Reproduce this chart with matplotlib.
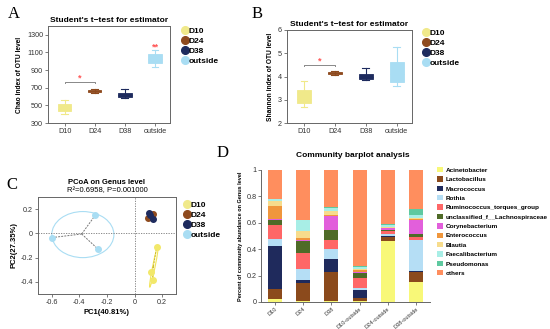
import numpy as np
import matplotlib
matplotlib.use('Agg')
import matplotlib.pyplot as plt
from matplotlib.lines import Line2D
from matplotlib.patches import Ellipse, Patch

plt.rcParams['font.family'] = ['Liberation Sans', 'DejaVu Sans']

W, H = 550, 329

# ---- data ----
groups = ['D10', 'D24', 'D38', 'outside']
grp_colors = ['#F0E98A', '#8E4A1E', '#1E2B5E', '#A9DDF3']

chao_lo = [400, 640, 580, 940]
chao_q1 = [440, 652, 598, 975]
chao_med = [462, 662, 615, 1030]
chao_q3 = [510, 675, 640, 1080]
chao_hi = [560, 690, 680, 1130]

shan_lo = [2.70, 4.05, 3.85, 3.60]
shan_q1 = [2.85, 4.10, 3.88, 3.78]
shan_med = [3.05, 4.14, 3.98, 4.10]
shan_q3 = [3.40, 4.18, 4.12, 4.62]
shan_hi = [3.82, 4.22, 4.35, 5.25]

pc_x = {'D10': [0.16, 0.12, 0.13],
        'D24': [0.095, 0.125, 0.135],
        'D38': [0.105, 0.11, 0.13],
        'outside': [-0.60, -0.285, -0.265]}
pc_y = {'D10': [-0.11, -0.32, -0.385],
        'D24': [0.13, 0.145, 0.16],
        'D38': [0.17, 0.15, 0.12],
        'outside': [-0.035, 0.15, -0.13]}

samples = ['D10', 'D24', 'D38', 'D10-outside', 'D24-outside', 'D38-outside']
genera = ['Acinetobacter', 'Lactobacillus', 'Macrococcus', 'Rothia',
          'Ruminococcus_torques_group', 'unclassified_f__Lachnospiraceae',
          'Corynebacterium', 'Enterococcus', 'Blautia', 'Faecalibacterium',
          'Pseudomonas', 'others']
genus_colors = ['#F8F878', '#8B4A1C', '#1F2A5C', '#B5DEF5', '#FF6767', '#4F6B28',
                '#E25FDB', '#F0963C', '#F7DC8C', '#A8EEE6', '#5EC9A0', '#FF8E5E']
abund = {
    'Acinetobacter':                   [0.020, 0.008, 0.005, 0.008, 0.462, 0.154],
    'Lactobacillus':                   [0.076, 0.138, 0.220, 0.025, 0.033, 0.070],
    'Macrococcus':                     [0.330, 0.020, 0.100, 0.055, 0.005, 0.008],
    'Rothia':                          [0.048, 0.083, 0.074, 0.016, 0.015, 0.240],
    'Ruminococcus_torques_group':      [0.111, 0.126, 0.072, 0.080, 0.020, 0.022],
    'unclassified_f__Lachnospiraceae': [0.038, 0.086, 0.078, 0.033, 0.013, 0.020],
    'Corynebacterium':                 [0.008, 0.010, 0.104, 0.013, 0.012, 0.108],
    'Enterococcus':                    [0.096, 0.015, 0.008, 0.010, 0.004, 0.005],
    'Blautia':                         [0.040, 0.053, 0.025, 0.013, 0.006, 0.007],
    'Faecalibacterium':                [0.010, 0.084, 0.028, 0.015, 0.012, 0.025],
    'Pseudomonas':                     [0.002, 0.002, 0.002, 0.005, 0.008, 0.047],
}
abund['others'] = list(1 - np.sum([abund[g] for g in genera[:-1]], axis=0))


def rect(l, t, r, b):
    return [l / W, 1 - b / H, (r - l) / W, (b - t) / H]


fig = plt.figure(figsize=(W / 100, H / 100), dpi=100)
spine_c = '#666666'
tick_fs = 5.2


def boxpanel(ax, lo, q1, med, q3, hi, ylab, yl, yt):
    stats = []
    for i in range(len(groups)):
        stats.append(dict(whislo=lo[i], q1=q1[i], med=med[i], q3=q3[i], whishi=hi[i], fliers=[]))
    bp = ax.bxp(stats, positions=range(1, 5), widths=0.45, patch_artist=True,
                showfliers=False)
    for i, c in enumerate(grp_colors):
        bp['boxes'][i].set(facecolor=c, edgecolor=c, linewidth=0.6)
        bp['medians'][i].set(color=c, linewidth=0.6)
        for k in (2 * i, 2 * i + 1):
            bp['whiskers'][k].set(color=c, linewidth=0.8)
            bp['caps'][k].set(color=c, linewidth=0.8)
    ax.set_xlim(0.45, 4.5)
    ax.set_ylim(*yl)
    ax.set_yticks(yt)
    ax.set_xticks(range(1, 5))
    ax.set_xticklabels(groups)
    ax.tick_params(labelsize=tick_fs, length=2, width=0.6, color=spine_c, pad=1.5,
                   labelcolor='#333333')
    for s in ax.spines.values():
        s.set_color(spine_c)
        s.set_linewidth(0.7)
    ax.set_ylabel(ylab, fontsize=4.8, fontweight='bold', labelpad=3)
    ax.set_title("Student's t\u2212test for estimator", fontsize=6, fontweight='bold', pad=3)


def sigbar(ax, x1, x2, y, tip, ystar, txt):
    ax.plot([x1, x1, x2, x2], [y - tip, y, y, y - tip], color='#888888', lw=0.7)
    ax.text((x1 + x2) / 2, ystar, txt, color='#FF5555',
            ha='center', va='center', fontsize=6.5, fontweight='bold')


def grp_legend(x, y, fs=6):
    hs = [Line2D([], [], marker='o', ls='', markersize=5.5, color=c) for c in grp_colors]
    fig.legend(hs, groups, loc='upper left', bbox_to_anchor=(x / W, 1 - y / H),
               frameon=False, prop={'weight': 'bold', 'size': fs},
               handlelength=0.6, handletextpad=0.2, labelspacing=0.25, borderpad=0,
               borderaxespad=0)


# ---- A ----
axA = fig.add_axes(rect(48, 26, 170, 123))
boxpanel(axA, chao_lo, chao_q1, chao_med, chao_q3, chao_hi,
         'Chao index of OTU level', (300, 1400), [300, 500, 700, 900, 1100, 1300])
sigbar(axA, 1, 2, 760, 10, 805, '*')
axA.text(4, 1160, '**', color='#FF5555', ha='center', va='center', fontsize=6.5,
         fontweight='bold')
grp_legend(182, 27)
fig.text(8 / W, 1 - 14 / H, 'A', fontsize=12, family='Liberation Serif', va='center')

# ---- B ----
axB = fig.add_axes(rect(287, 30, 412, 123))
boxpanel(axB, shan_lo, shan_q1, shan_med, shan_q3, shan_hi,
         'Shannon index of OTU level', (2, 6), [2, 3, 4, 5, 6])
sigbar(axB, 1, 2, 4.5, 0.04, 4.68, '*')
grp_legend(423, 29)
fig.text(252 / W, 1 - 14 / H, 'B', fontsize=12, family='Liberation Serif', va='center')

# ---- C ----
axC = fig.add_axes(rect(38, 197, 176, 294))
axC.axhline(0, color='#777777', ls=(0, (1.5, 1.5)), lw=0.6)
axC.axvline(0, color='#777777', ls=(0, (1.5, 1.5)), lw=0.6)
axC.add_patch(Ellipse((-0.375, -0.01), 0.45, 0.38, fill=False, ec=grp_colors[3], lw=0.8))
axC.add_patch(Ellipse((0.14, -0.272), 0.35, 0.018, angle=80, fill=False, ec='#F2E45A', lw=0.8))
for g, c in zip(groups, grp_colors):
    xs, ys = np.array(pc_x[g]), np.array(pc_y[g])
    cx, cy = xs.mean(), ys.mean()
    lc = '#777777' if g != 'D10' else '#C8B82A'
    for px, py in zip(xs, ys):
        axC.plot([cx, px], [cy, py], color=lc, ls=(0, (2, 1.2)), lw=0.7)
    col = '#F2E86A' if g == 'D10' else c
    axC.plot(xs, ys, 'o', color=col, markersize=4, zorder=3)
axC.set_xlim(-0.7, 0.3)
axC.set_ylim(-0.5, 0.3)
axC.set_xticks([-0.6, -0.4, -0.2, 0, 0.2])
axC.set_xticklabels(['-0.6', '-0.4', '-0.2', '0', '0.2'])
axC.set_yticks([-0.4, -0.2, 0, 0.2])
axC.set_yticklabels(['-0.4', '-0.2', '0', '0.2'])
axC.tick_params(labelsize=tick_fs, length=2, width=0.6, color=spine_c, pad=1.5,
                labelcolor='#333333')
for s in axC.spines.values():
    s.set_color(spine_c)
    s.set_linewidth(0.7)
axC.set_xlabel('PC1(40.81%)', fontsize=5.5, fontweight='bold', labelpad=2)
axC.set_ylabel('PC2(27.35%)', fontsize=5.5, fontweight='bold', labelpad=2)
fig.text(107 / W, 1 - 182 / H, 'PCoA on Genus level', fontsize=5.5, fontweight='bold',
         ha='center', va='center')
fig.text(107 / W, 1 - 190.5 / H, 'R\u00b2=0.6958, P=0.001000', fontsize=5.5,
         ha='center', va='center')
grp_legend(184, 201)
fig.text(6 / W, 1 - 185 / H, 'C', fontsize=12, family='Liberation Serif', va='center')

# ---- D ----
axD = fig.add_axes(rect(261, 170, 430, 302))
xpos = np.arange(len(samples))
bottom = np.zeros(len(samples))
for g, c in zip(genera, genus_colors):
    v = np.array(abund[g])
    axD.bar(xpos, v, 0.5, bottom=bottom, color=c, lw=0)
    bottom += v
axD.set_xlim(-0.5, 5.5)
axD.set_ylim(0, 1)
axD.set_yticks([0, 0.2, 0.4, 0.6, 0.8, 1])
axD.set_yticklabels(['0', '0.2', '0.4', '0.6', '0.8', '1'])
axD.set_xticks(xpos)
axD.set_xticklabels(samples, rotation=40, ha='right', rotation_mode='anchor',
                    fontsize=4.1)
axD.tick_params(axis='y', labelsize=tick_fs)
axD.tick_params(length=2, width=0.6, color=spine_c, pad=1, labelcolor='#333333')
axD.spines['top'].set_visible(False)
axD.spines['right'].set_visible(False)
for s in ('left', 'bottom'):
    axD.spines[s].set_color(spine_c)
    axD.spines[s].set_linewidth(0.7)
axD.set_ylabel('Percent of community abundance on Genus level', fontsize=4,
               fontweight='bold', labelpad=3)
fig.text(353 / W, 1 - 155.5 / H, 'Community barplot analysis', fontsize=6,
         fontweight='bold', ha='center', va='center')
hs = [Patch(facecolor=c, edgecolor='none') for c in genus_colors]
fig.legend(hs, genera, loc='upper left', bbox_to_anchor=(437 / W, 1 - 167 / H),
           frameon=False, prop={'weight': 'bold', 'size': 4.6}, handlelength=0.9,
           handleheight=0.9, handletextpad=0.5, labelspacing=0.55, borderpad=0,
           borderaxespad=0)
fig.text(217 / W, 1 - 153 / H, 'D', fontsize=12, family='Liberation Serif', va='center')

fig.savefig('out.png', dpi=100)
